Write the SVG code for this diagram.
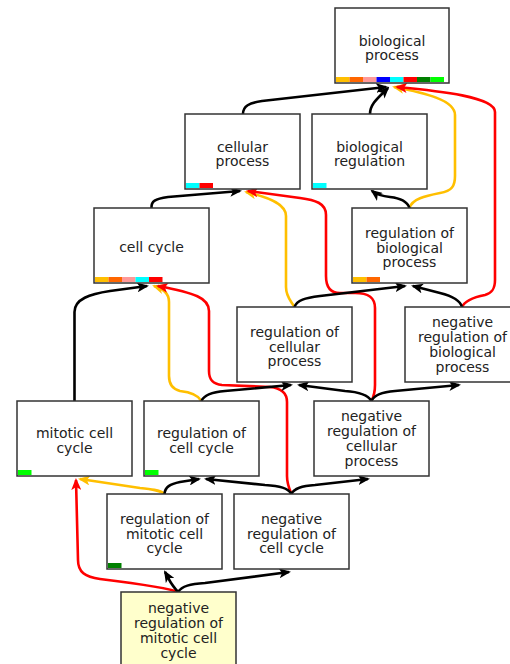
<svg xmlns="http://www.w3.org/2000/svg" width="510" height="664" viewBox="0 0 510 664">
  <style>
    .box { fill: #ffffff; stroke: #333333; stroke-width: 1.5; }
    .focus { fill: #ffffcc; }
    .lbl { font-family: "DejaVu Sans", Verdana, sans-serif; font-size: 14px; fill: #222222; text-anchor: middle; }
    .e { fill: none; stroke-width: 2.6; stroke-linejoin: round; }
    .isa { stroke: #000000; marker-end: url(#ahBlack); }
    .reg { stroke: #ffbf00; marker-end: url(#ahGold); }
    .neg { stroke: #ff0000; marker-end: url(#ahRed); }
    .c1 { fill: #ffbf00; } .c2 { fill: #ff6600; } .c3 { fill: #ff9999; } .c4 { fill: #0000ff; }
    .c5 { fill: #00ffff; } .c6 { fill: #ff0000; } .c7 { fill: #008000; } .c8 { fill: #00ff00; }
  </style>
  <defs>
    <marker id="ahBlack" markerUnits="userSpaceOnUse" markerWidth="12" markerHeight="10" viewBox="0 0 12 10" refX="10" refY="5" orient="auto">
      <path d="M0,0 L12,5 L0,10 L3,5 z" fill="#000000"/>
    </marker>
    <marker id="ahGold" markerUnits="userSpaceOnUse" markerWidth="12" markerHeight="10" viewBox="0 0 12 10" refX="10" refY="5" orient="auto">
      <path d="M0,0 L12,5 L0,10 L3,5 z" fill="#ffbf00"/>
    </marker>
    <marker id="ahRed" markerUnits="userSpaceOnUse" markerWidth="12" markerHeight="10" viewBox="0 0 12 10" refX="10" refY="5" orient="auto">
      <path d="M0,0 L12,5 L0,10 L3,5 z" fill="#ff0000"/>
    </marker>
  </defs>

  <rect width="510" height="664" fill="#ffffff"/>

  <!-- connectors: black = is_a, gold = regulates, red = negatively regulates -->
  <g id="edges">
    <!-- into biological process -->
    <path class="e isa" d="M243,114 C243,106 249,103 262,101 L386,87"/>
    <path class="e isa" d="M370,114 C370,104 378,98 388,88"/>
    <path class="e reg" d="M409.5,208 C412,199 425,196 440,193 C452,191 455,186 455,176 L455,115 C455,100 425,93 394,87"/>
    <path class="e neg" d="M462,307 C465,300 475,297 485,295 C492,293 495,289 495,280 L495,112 C495,97 440,91 397,87"/>
    <!-- into cellular process -->
    <path class="e isa" d="M151.5,208 C151,201 155,199 168,197 L240,191"/>
    <path class="e reg" d="M294.5,307 C291,301 286,297 286,287 L286,216 C286,205 272,198 246,192"/>
    <path class="e neg" d="M371.5,401 C374,396 375,392 375,385 L375,308 C375,297 368,293 355,293 L340,293 C330,293 326,286 326,276 L326,215 C326,203 315,200 300,198 L248,191"/>
    <!-- into biological regulation -->
    <path class="e isa" d="M409.5,208 C407,201 400,198 390,197 C381,196 376,194 372,191"/>
    <!-- into cell cycle -->
    <path class="e isa" d="M74.5,401 L74.5,312 C74.5,299 90,294 110,291 L147,286"/>
    <path class="e reg" d="M201.5,401 C198,395 190,392 180,391 C172,389 169,384 169,376 L169,302 C169,293 163,289 154,286"/>
    <path class="e neg" d="M291.5,494 C289,488 287,484 287,476 L287,402 C287,392 280,388 270,387 L222,385 C212,384 209,379 209,371 L209,311 C209,298 195,293 158,286"/>
    <!-- into regulation of biological process -->
    <path class="e isa" d="M294.5,307 C297,300 305,298 320,296 L405,286"/>
    <path class="e isa" d="M462,307 C460,300 452,296 440,293 L413,286"/>
    <!-- into regulation of cellular process -->
    <path class="e isa" d="M201.5,401 C204,395 212,392 225,391 L291,385"/>
    <path class="e isa" d="M371.5,401 C368,395 360,392 345,391 L299,385"/>
    <!-- into negative regulation of biological process -->
    <path class="e isa" d="M371.5,401 C374,395 382,392 395,391 L459,385"/>
    <!-- into mitotic cell cycle -->
    <path class="e reg" d="M164.5,494 C160,490 150,489 140,488 L80,479"/>
    <path class="e neg" d="M178,592 C170,588 140,584 100,579 C85,577 78,572 78,560 L76,480"/>
    <!-- into regulation of cell cycle -->
    <path class="e isa" d="M164.5,494 C165,487 170,484 180,482 L199,479"/>
    <path class="e isa" d="M291.5,494 C288,488 280,486 265,485 L206,479"/>
    <!-- into negative regulation of cellular process -->
    <path class="e isa" d="M291.5,494 C294,488 302,486 315,485 L368,479"/>
    <!-- into regulation of mitotic cell cycle / negative regulation of cell cycle -->
    <path class="e isa" d="M178,592 C174,587 170,583 168,577 L165,572"/>
    <path class="e isa" d="M178,592 C182,586 190,584 205,583 L289,572"/>
  </g>

  <g id="biological_process">
    <rect class="box" x="335" y="8" width="114" height="75"/>
    <rect class="c1" x="336" y="77" width="13.5" height="5"/>
    <rect class="c2" x="349.5" y="77" width="13.5" height="5"/>
    <rect class="c3" x="363" y="77" width="13.5" height="5"/>
    <rect class="c4" x="376.5" y="77" width="13.5" height="5"/>
    <rect class="c5" x="390" y="77" width="13.5" height="5"/>
    <rect class="c6" x="403.5" y="77" width="13.5" height="5"/>
    <rect class="c7" x="417" y="77" width="13.5" height="5"/>
    <rect class="c8" x="430.5" y="77" width="13.5" height="5"/>
    <text class="lbl" x="392" y="45.5">biological</text>
    <text class="lbl" x="392" y="60.3">process</text>
  </g>

  <g id="cellular_process">
    <rect class="box" x="185" y="114" width="115" height="75"/>
    <rect class="c5" x="186" y="183" width="13.5" height="5"/>
    <rect class="c6" x="199.5" y="183" width="13.5" height="5"/>
    <text class="lbl" x="242.5" y="151.5">cellular</text>
    <text class="lbl" x="242.5" y="166.3">process</text>
  </g>

  <g id="biological_regulation">
    <rect class="box" x="312" y="114" width="115" height="75"/>
    <rect class="c5" x="313" y="183" width="13.5" height="5"/>
    <text class="lbl" x="369.5" y="151.5">biological</text>
    <text class="lbl" x="369.5" y="166.3">regulation</text>
  </g>

  <g id="cell_cycle">
    <rect class="box" x="94" y="208" width="115" height="75"/>
    <rect class="c1" x="95" y="277" width="13.5" height="5"/>
    <rect class="c2" x="108.5" y="277" width="13.5" height="5"/>
    <rect class="c3" x="122" y="277" width="13.5" height="5"/>
    <rect class="c5" x="135.5" y="277" width="13.5" height="5"/>
    <rect class="c6" x="149" y="277" width="13.5" height="5"/>
    <text class="lbl" x="151.5" y="252">cell cycle</text>
  </g>

  <g id="regulation_of_biological_process">
    <rect class="box" x="352" y="208" width="115" height="75"/>
    <rect class="c1" x="353" y="277" width="13.5" height="5"/>
    <rect class="c2" x="366.5" y="277" width="13.5" height="5"/>
    <text class="lbl" x="409.5" y="237.7">regulation of</text>
    <text class="lbl" x="409.5" y="252.5">biological</text>
    <text class="lbl" x="409.5" y="267.3">process</text>
  </g>

  <g id="regulation_of_cellular_process">
    <rect class="box" x="237" y="307" width="115" height="75"/>
    <text class="lbl" x="294.5" y="336.7">regulation of</text>
    <text class="lbl" x="294.5" y="351.5">cellular</text>
    <text class="lbl" x="294.5" y="366.3">process</text>
  </g>

  <g id="negative_regulation_of_biological_process">
    <rect class="box" x="405" y="307" width="115" height="75"/>
    <text class="lbl" x="462.5" y="327.3">negative</text>
    <text class="lbl" x="462.5" y="342.1">regulation of</text>
    <text class="lbl" x="462.5" y="356.9">biological</text>
    <text class="lbl" x="462.5" y="371.7">process</text>
  </g>

  <g id="mitotic_cell_cycle">
    <rect class="box" x="17" y="401" width="115" height="75"/>
    <rect class="c8" x="18" y="470" width="13.5" height="5"/>
    <text class="lbl" x="74.5" y="438">mitotic cell</text>
    <text class="lbl" x="74.5" y="452.8">cycle</text>
  </g>

  <g id="regulation_of_cell_cycle">
    <rect class="box" x="144" y="401" width="115" height="75"/>
    <rect class="c8" x="145" y="470" width="13.5" height="5"/>
    <text class="lbl" x="201.5" y="438">regulation of</text>
    <text class="lbl" x="201.5" y="452.8">cell cycle</text>
  </g>

  <g id="negative_regulation_of_cellular_process">
    <rect class="box" x="314" y="401" width="115" height="75"/>
    <text class="lbl" x="371.5" y="421.3">negative</text>
    <text class="lbl" x="371.5" y="436.1">regulation of</text>
    <text class="lbl" x="371.5" y="450.9">cellular</text>
    <text class="lbl" x="371.5" y="465.7">process</text>
  </g>

  <g id="regulation_of_mitotic_cell_cycle">
    <rect class="box" x="107" y="494" width="115" height="75"/>
    <rect class="c7" x="108" y="563" width="13.5" height="5"/>
    <text class="lbl" x="164.5" y="523.7">regulation of</text>
    <text class="lbl" x="164.5" y="538.5">mitotic cell</text>
    <text class="lbl" x="164.5" y="553.3">cycle</text>
  </g>

  <g id="negative_regulation_of_cell_cycle">
    <rect class="box" x="234" y="494" width="115" height="75"/>
    <text class="lbl" x="291.5" y="523.7">negative</text>
    <text class="lbl" x="291.5" y="538.5">regulation of</text>
    <text class="lbl" x="291.5" y="553.3">cell cycle</text>
  </g>

  <g id="negative_regulation_of_mitotic_cell_cycle">
    <rect class="box focus" x="121" y="592" width="115" height="75"/>
    <text class="lbl" x="178.5" y="613.3">negative</text>
    <text class="lbl" x="178.5" y="628.1">regulation of</text>
    <text class="lbl" x="178.5" y="642.9">mitotic cell</text>
    <text class="lbl" x="178.5" y="657.7">cycle</text>
  </g>
</svg>
